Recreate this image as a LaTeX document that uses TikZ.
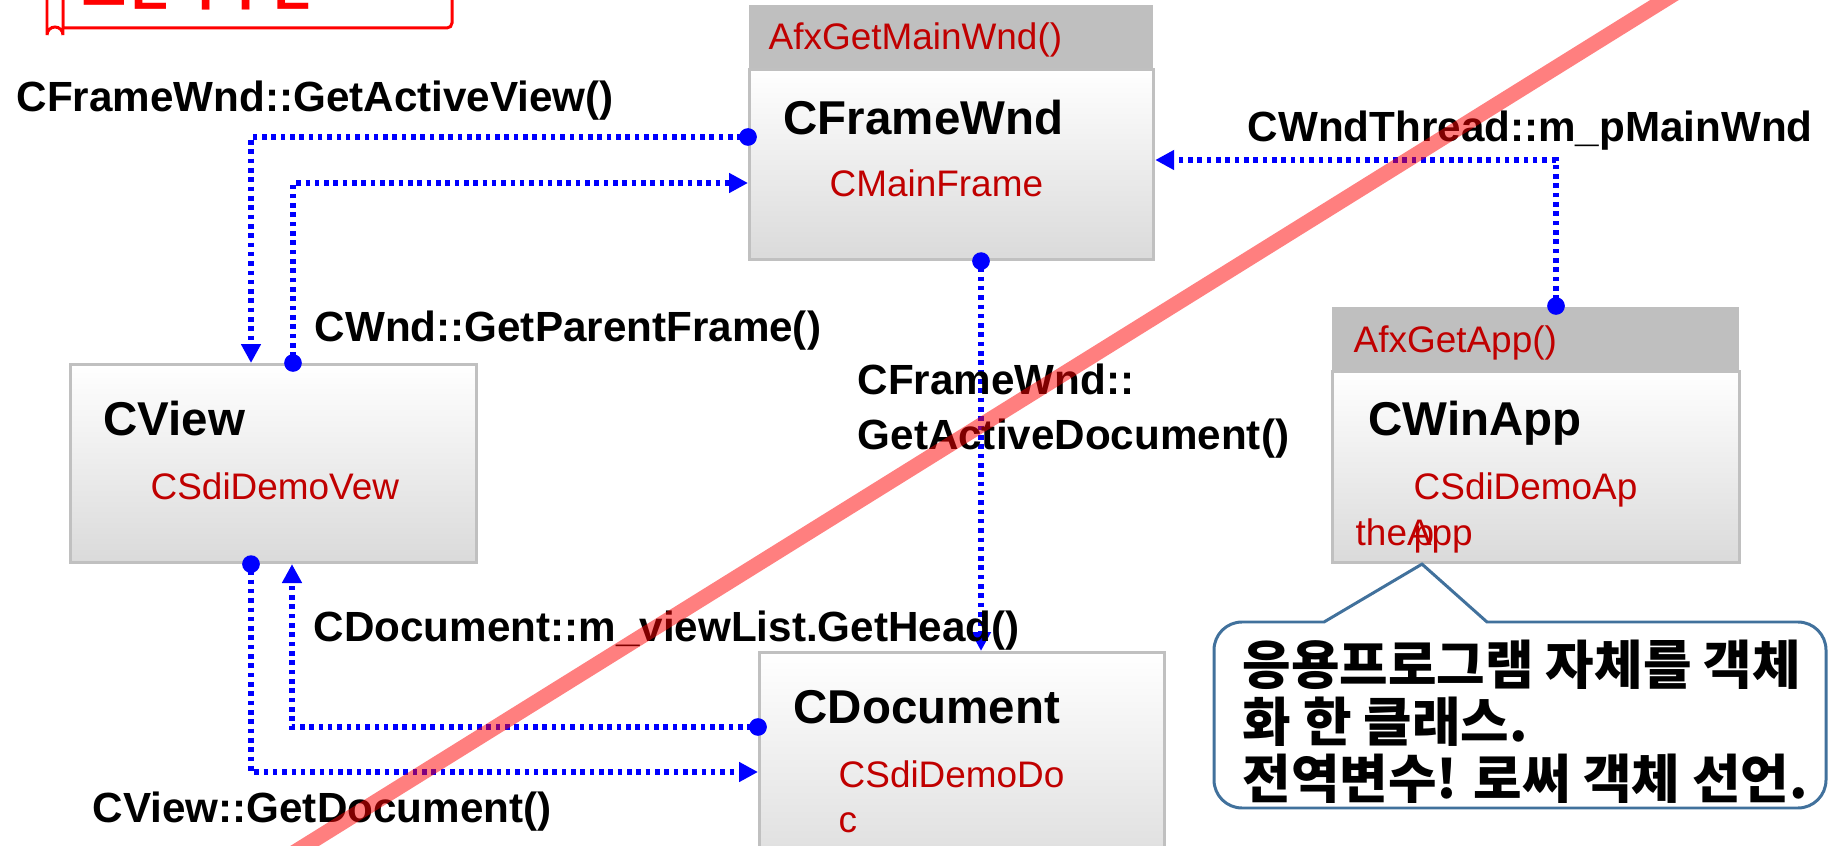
\documentclass[tikz,border=0pt]{standalone}
\usepackage{fontspec}
\setmainfont{Liberation Sans}
\newfontfamily\kr{Noto Sans CJK KR}
\usetikzlibrary{arrows.meta}
\definecolor{boxline}{RGB}{192,192,192}
\definecolor{boxbot}{RGB}{218,218,218}
\definecolor{hdrgray}{RGB}{191,191,191}
\definecolor{clsred}{RGB}{192,0,0}
\definecolor{noteblue}{RGB}{65,113,156}
\tikzset{
  clsbox/.style={draw=boxline, line width=0.85pt, top color=white, bottom color=boxbot, anchor=north west, inner sep=0pt},
  hdr/.style={fill=hdrgray, anchor=north west, inner sep=0pt},
  clsname/.style={anchor=base west, inner sep=0pt, font=\fontsize{13.5pt}{16pt}\selectfont\bfseries},
  impl/.style={anchor=base west, inner sep=0pt, text=clsred, font=\fontsize{10.5pt}{12pt}\selectfont},
  call/.style={anchor=base west, inner sep=0pt, font=\fontsize{12pt}{15.4pt}\selectfont\bfseries},
  link/.style={blue, line width=1.5pt, dash pattern=on 1.3pt off 1.35pt,
    {Circle[length=5pt]}-{Triangle[length=5.4pt,width=5.4pt]}, shorten <=-2.5pt}
}
\begin{document}
\begin{tikzpicture}[x=0.01cm, y=-0.01cm]
  \useasboundingbox (0,0) rectangle (1833,846);

  \draw[red, line width=0.85pt, fill=white] (63,-20) -- (63,28) -- (447,28) arc (90:0:5) -- (452,-20);
  \draw[red, line width=0.85pt, fill=white] (47,-20) -- (47,35) arc (180:360:8) -- (63,-20);
  \node[anchor=base west, inner sep=0pt, text=red, font=\kr\bfseries\fontsize{13.5pt}{16pt}\selectfont] (title) at (82,6) {포인터 구현};

  \node[hdr, minimum width=4.04cm, minimum height=0.64cm] (framehdr) at (748,4) {};
  \node[clsbox, minimum width=4.04cm, minimum height=1.90cm] (frame) at (748,68) {};
  \node[impl] (frame-get) at (768,50) {AfxGetMainWnd()};
  \node[clsname] (frame-t) at (783,135) {CFrameWnd};
  \node[impl] (frame-c) at (829,197) {CMainFrame};

  \node[clsbox, minimum width=4.06cm, minimum height=1.98cm] (view) at (69,363) {};
  \node[clsname] (view-t) at (103,436) {CView};
  \node[impl] (view-c) at (150,500) {CSdiDemoVew};

  \node[hdr, minimum width=4.07cm, minimum height=0.64cm] (apphdr) at (1331,306) {};
  \node[clsbox, minimum width=4.07cm, minimum height=1.91cm] (app) at (1331,370) {};
  \node[impl] (app-get) at (1353,353) {AfxGetApp()};
  \node[clsname] (app-t) at (1368,436) {CWinApp};
  \node[impl] (app-c) at (1413,500) {CSdiDemoAp};
  \node[impl] (app-c2) at (1413,545) {p};
  \node[impl] (app-obj) at (1355,545) {theApp};

  \node[clsbox, minimum width=4.05cm, minimum height=2.4cm] (doc) at (758,651) {};
  \node[clsname] (doc-t) at (793,723) {CDocument};
  \node[impl] (doc-c) at (838,787) {CSdiDemoDo};
  \node[impl] (doc-c2) at (838,832) {c};

  \draw[link] (frame.west |- 0,137) -| (view.north -| 251,0);
  \draw[link] (view.north -| 293,0) |- (frame.west |- 0,183);
  \draw[link] (apphdr.north -| 1556,0) |- (frame.east |- 0,160);
  \draw[link] (frame.south -| 981,0) -- (doc.north -| 981,0);
  \draw[link] (doc.west |- 0,727) -| (view.south -| 292,0);
  \draw[link] (view.south -| 251,0) |- (doc.west |- 0,772);

  \node[call] (l-view) at (16,112) {CFrameWnd::GetActiveView()};
  \node[call] (l-parent) at (314,342) {CWnd::GetParentFrame()};
  \node[call] (l-main) at (1247,142) {CWndThread::m\_pMainWnd};
  \node[call, align=left] (l-adoc) at (857,449) {CFrameWnd::\\GetActiveDocument()};
  \node[call] (l-head) at (313,641) {CDocument::m\_viewList.GetHead()};
  \node[call] (l-doc) at (92,822) {CView::GetDocument()};

  \draw[noteblue, line width=0.85pt, fill=white] (1324,622) -- (app.south -| 1422,0) -- (1487,622)
    [rounded corners=0.28cm] -- (1826,622) -- (1826,808) -- (1214,808) -- (1214,622) [sharp corners] -- cycle;
  \node[anchor=base west, align=left, inner sep=0pt, font=\kr\bfseries\fontsize{15pt}{16.2pt}\selectfont] (note) at (1242,798)
    {응용프로그램 자체를 객체\\화 한 클래스.\\전역변수! 로써 객체 선언.};

  \draw[red, opacity=0.5, line width=4.3pt] (237,888) -- (1732,-42);
\end{tikzpicture}
\end{document}
